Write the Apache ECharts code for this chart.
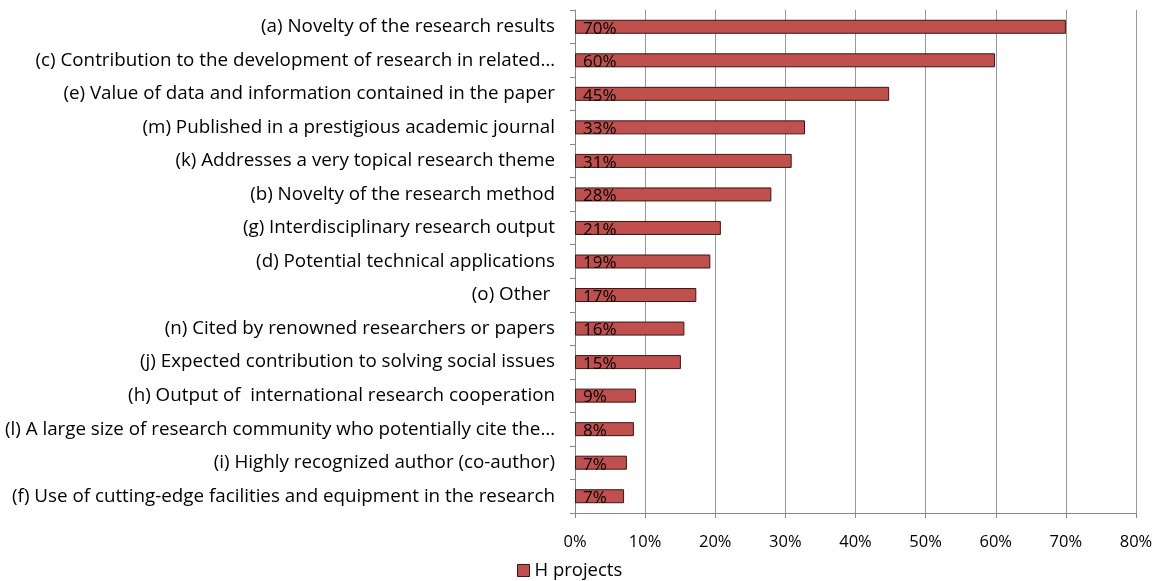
<!DOCTYPE html>
<html>
<head>
<meta charset="utf-8">
<script src="https://cdn.jsdelivr.net/npm/echarts@6/dist/echarts.min.js"></script>
<style>
html,body{margin:0;padding:0;background:#fff;}
#main{width:1157px;height:581px;}
</style>
</head>
<body>
<div id="main"></div>
<script>
const categories = [
  "(a) Novelty of the research results",
  "(c) Contribution to the development of research in related…",
  "(e) Value of data and information contained in the paper",
  "(m) Published in a prestigious academic journal",
  "(k) Addresses a very topical research theme",
  "(b) Novelty of the research method",
  "(g) Interdisciplinary research output",
  "(d) Potential technical applications",
  "(o) Other ",
  "(n) Cited by renowned researchers or papers",
  "(j) Expected contribution to solving social issues",
  "(h) Output of  international research cooperation",
  "(l) A large size of research community who potentially cite the…",
  "(i) Highly recognized author (co-author)",
  "(f) Use of cutting-edge facilities and equipment in the research"
];
const seriesName = "H projects";
const values = [70.0, 59.9, 44.8, 32.8, 30.9, 28.0, 20.8, 19.3, 17.3, 15.6, 15.1, 8.7, 8.4, 7.4, 7.0];
const xTicks = [0, 10, 20, 30, 40, 50, 60, 70, 80];

const FONT = "'Open Sans', 'Noto Sans', sans-serif";
const chart = echarts.init(document.getElementById('main'), null, {renderer: 'canvas'});
chart.setOption({
  animation: false,
  backgroundColor: '#fff',
  grid: {left: 575, right: 21, top: 10, bottom: 68, containLabel: false},
  legend: {
    top: 556, left: 512,
    data: [seriesName],
    itemWidth: 12, itemHeight: 12, itemGap: 6,
    icon: 'rect',
    itemStyle: {borderColor: '#3a1514', borderWidth: 1},
    textStyle: {fontFamily: FONT, fontSize: 18.5, color: '#000'}
  },
  xAxis: {
    type: 'value',
    min: xTicks[0], max: xTicks[xTicks.length - 1], interval: 10,
    axisLine: {show: true, lineStyle: {color: '#888', width: 1}},
    axisTick: {show: true, length: 5, lineStyle: {color: '#888'}},
    splitLine: {show: true, lineStyle: {color: '#999', width: 1}},
    axisLabel: {
      formatter: v => v + '%',
      fontFamily: FONT, fontSize: 16.5, color: '#000', margin: 21
    }
  },
  yAxis: {
    type: 'category',
    data: categories,
    inverse: true,
    axisLine: {show: true, lineStyle: {color: '#888', width: 1}},
    axisTick: {show: true, length: 5, lineStyle: {color: '#888'}},
    splitLine: {show: false},
    axisLabel: {
      fontFamily: FONT, fontSize: 18.8, color: '#000', margin: 20, interval: 0
    }
  },
  series: [{
    name: seriesName,
    type: 'bar',
    data: values,
    barWidth: 14,
    itemStyle: {color: '#C0504D', borderColor: '#3a1514', borderWidth: 1},
    label: {
      show: true,
      position: 'insideLeft',
      offset: [3, 2],
      formatter: p => Math.round(p.value) + '%',
      fontFamily: FONT, fontSize: 17, color: '#000'
    }
  }]
});
</script>
</body>
</html>
